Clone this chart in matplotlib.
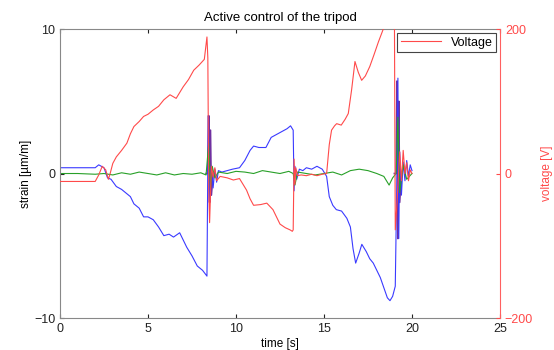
import numpy as np
import matplotlib.pyplot as plt

plt.rcParams['font.family'] = ['Liberation Sans', 'DejaVu Sans']

# strain channel 1 (blue)
t_blue = [0, 2.0, 2.2, 2.5, 2.7, 2.9, 3.2, 3.5, 3.8, 4.0, 4.2, 4.5, 4.75, 5.0, 5.3, 5.6,
          5.9, 6.2, 6.45, 6.8, 7.0, 7.2, 7.5, 7.8, 8.1, 8.35, 8.42, 8.5, 8.6, 8.7, 8.8,
          8.9, 9.0, 9.2, 9.5, 9.8, 10.2, 10.5, 10.8, 11.0, 11.3, 11.7, 12.0, 12.3, 12.6,
          12.9, 13.1, 13.25, 13.3, 13.35, 13.45, 13.6, 13.8, 14.0, 14.3, 14.6, 14.9, 15.15,
          15.3, 15.5, 15.7, 16.0, 16.3, 16.5, 16.65, 16.8, 17.0, 17.15, 17.4, 17.6, 17.8,
          18.0, 18.2, 18.4, 18.6, 18.75, 18.9, 19.05, 19.1, 19.15, 19.2, 19.25, 19.3, 19.4,
          19.5, 19.6, 19.7, 19.8, 19.9, 20.0]
strain_blue = [0.4, 0.4, 0.6, 0.4, -0.3, -0.4, -0.9, -1.1, -1.4, -1.6, -2.1, -2.4, -3.0, -3.0,
               -3.2, -3.7, -4.3, -4.2, -4.4, -4.1, -4.6, -5.1, -5.7, -6.4, -6.7, -7.1, 4.0,
               -1.8, 0.5, -1.0, 0.3, -0.6, 0.2, 0.1, 0.2, 0.3, 0.4, 0.9, 1.6, 1.9, 1.8, 1.8,
               2.5, 2.7, 2.9, 3.1, 3.3, 3.0, -1.2, 0.5, -0.4, 0.3, 0.2, 0.4, 0.3, 0.5, 0.3,
               -0.2, -1.6, -2.2, -2.5, -2.6, -3.1, -3.7, -5.2, -6.2, -5.5, -4.9, -5.4, -5.9,
               -6.2, -6.7, -7.2, -7.9, -8.6, -8.8, -8.5, -7.8, -3.7, 0.2, 6.6, -4.5, 1.5,
               -1.5, 0.8, -0.5, 0.9, -0.2, 0.6, 0.2]

# strain channel 2 (green)
t_green = [0, 1, 2, 2.5, 3, 3.5, 4, 4.5, 5, 5.5, 6, 6.5, 7, 7.5, 8, 8.3, 8.45, 8.55, 8.65,
           8.8, 9, 9.5, 10, 10.5, 11, 11.5, 12, 12.5, 13, 13.25, 13.35, 13.5, 14, 14.5, 15,
           15.5, 16, 16.5, 17, 17.5, 18, 18.4, 18.7, 18.9, 19.1, 19.2, 19.3, 19.5, 19.7, 20]
strain_green = [0.0, 0.0, -0.05, 0.0, -0.1, 0.05, -0.05, 0.1, 0.0, -0.1, 0.05, -0.1, 0.0,
                -0.05, 0.05, -0.1, 2.1, -1.0, 0.5, -0.3, 0.1, 0.0, 0.15, 0.1, 0.0, 0.2, 0.1,
                0.0, 0.15, 0.0, -0.8, 0.1, 0.0, -0.1, 0.0, 0.1, -0.1, 0.2, 0.3, 0.2, 0.0,
                -0.2, -0.8, -0.3, 0.0, 3.9, -1.3, 0.6, -0.4, 0.0]

# strain channel 3 (purple, only visible at the impulses)
t_purple_a = [8.3, 8.4, 8.45, 8.5, 8.55, 8.6, 8.7]
strain_purple_a = [0.0, 0.0, 4.0, -2.0, 3.0, -1.5, 0.0]
t_purple_b = [19.0, 19.1, 19.15, 19.2, 19.25, 19.3, 19.4]
strain_purple_b = [0.0, 0.0, 6.4, -4.5, 5.0, -2.0, 0.0]

# actuator voltage (red, right axis)
t_volt = [0, 2.0, 2.2, 2.4, 2.6, 2.75, 2.85, 3.0, 3.2, 3.5, 3.8, 4.0, 4.2, 4.5, 4.75, 5.0,
          5.3, 5.6, 5.9, 6.25, 6.6, 6.8, 7.0, 7.3, 7.6, 7.9, 8.2, 8.35, 8.4, 8.45, 8.5, 8.55,
          8.6, 8.7, 8.8, 8.9, 9.1, 9.5, 9.85, 10.2, 10.4, 10.6, 10.8, 11.0, 11.4, 11.75,
          12.1, 12.5, 12.8, 13.07, 13.2, 13.25, 13.3, 13.35, 13.4, 13.5, 13.7, 14.0, 14.3,
          14.6, 14.9, 15.15, 15.3, 15.43, 15.6, 15.72, 15.98, 16.2, 16.38, 16.57, 16.76,
          16.95, 17.14, 17.35, 17.6, 17.85, 18.09, 18.37, 18.6, 18.8, 19.0, 19.05, 19.15,
          19.3, 19.4, 19.5, 19.6, 19.7, 19.8, 19.9, 20.0]
voltage = [-11, -11, -2, 10, 5, -8, 0, 14, 23, 32, 42, 55, 65, 72, 79, 82, 88, 93, 102, 109,
           104, 112, 120, 130, 143, 150, 158, 189, 160, -20, -68, -30, 10, -5, 8, -10, -4, -6,
           -9, -7, -15, -23, -35, -44, -43, -41, -50, -70, -75, -78, -80, -78, 20, -15, 8, -3,
           -2, -3, -1, -3, -1, 0, 40, 60, 66, 69, 67, 75, 83, 116, 155, 140, 129, 135, 148,
           165, 182, 200, 215, 225, 230, -78, -40, 30, -10, 32, 0, 15, -10, 5, 0]

fig = plt.figure(figsize=(5.54, 3.5), dpi=100)
ax = fig.add_axes([0.1083, 0.0914, 0.7942, 0.8257])
ax2 = ax.twinx()

ax.plot(t_purple_a, strain_purple_a, color='#7030a0', lw=1.2)
ax.plot(t_purple_b, strain_purple_b, color='#7030a0', lw=1.2)
ax.plot(t_blue, strain_blue, color='#3a3aff', lw=0.8)
ax.plot(t_green, strain_green, color='#28a028', lw=0.8)
ax2.plot(t_volt, voltage, color='#ff4a4a', lw=0.8, label='Voltage')

ax.set_xlim(0, 25)
ax.set_ylim(-10, 10)
ax.set_xticks([0, 5, 10, 15, 20, 25])
ax.set_yticks([-10, 0, 10])
ax.tick_params(direction='in', top=True, right=False, length=3, labelsize=9,
               colors='#222222', width=0.8)
for side in ['left', 'top', 'bottom']:
    ax.spines[side].set_color('#888888')
ax.spines['right'].set_visible(False)
ax.set_xlabel('time [s]', fontsize=8.5, labelpad=2)
ax.set_ylabel('strain [µm/m]', fontsize=8.5, labelpad=1)
ax.set_title('Active control of the tripod', fontsize=9.5, pad=6)

ax2.set_ylim(-200, 200)
ax2.set_yticks([-200, 0, 200])
ax2.tick_params(direction='in', length=3, labelsize=9, colors='#ff4a4a', width=0.8)
ax2.spines['right'].set_color('#ff6060')
for side in ['left', 'top', 'bottom']:
    ax2.spines[side].set_visible(False)
ax2.set_ylabel('voltage [V]', fontsize=8.5, color='#ff4a4a', labelpad=6)

leg = ax2.legend(loc='upper right', fontsize=9, fancybox=False, framealpha=1,
                 borderaxespad=0.3, handlelength=3.2, borderpad=0.3)
leg.get_frame().set_edgecolor('#444444')
leg.get_frame().set_linewidth(0.8)

fig.savefig('out.png', dpi=100)
